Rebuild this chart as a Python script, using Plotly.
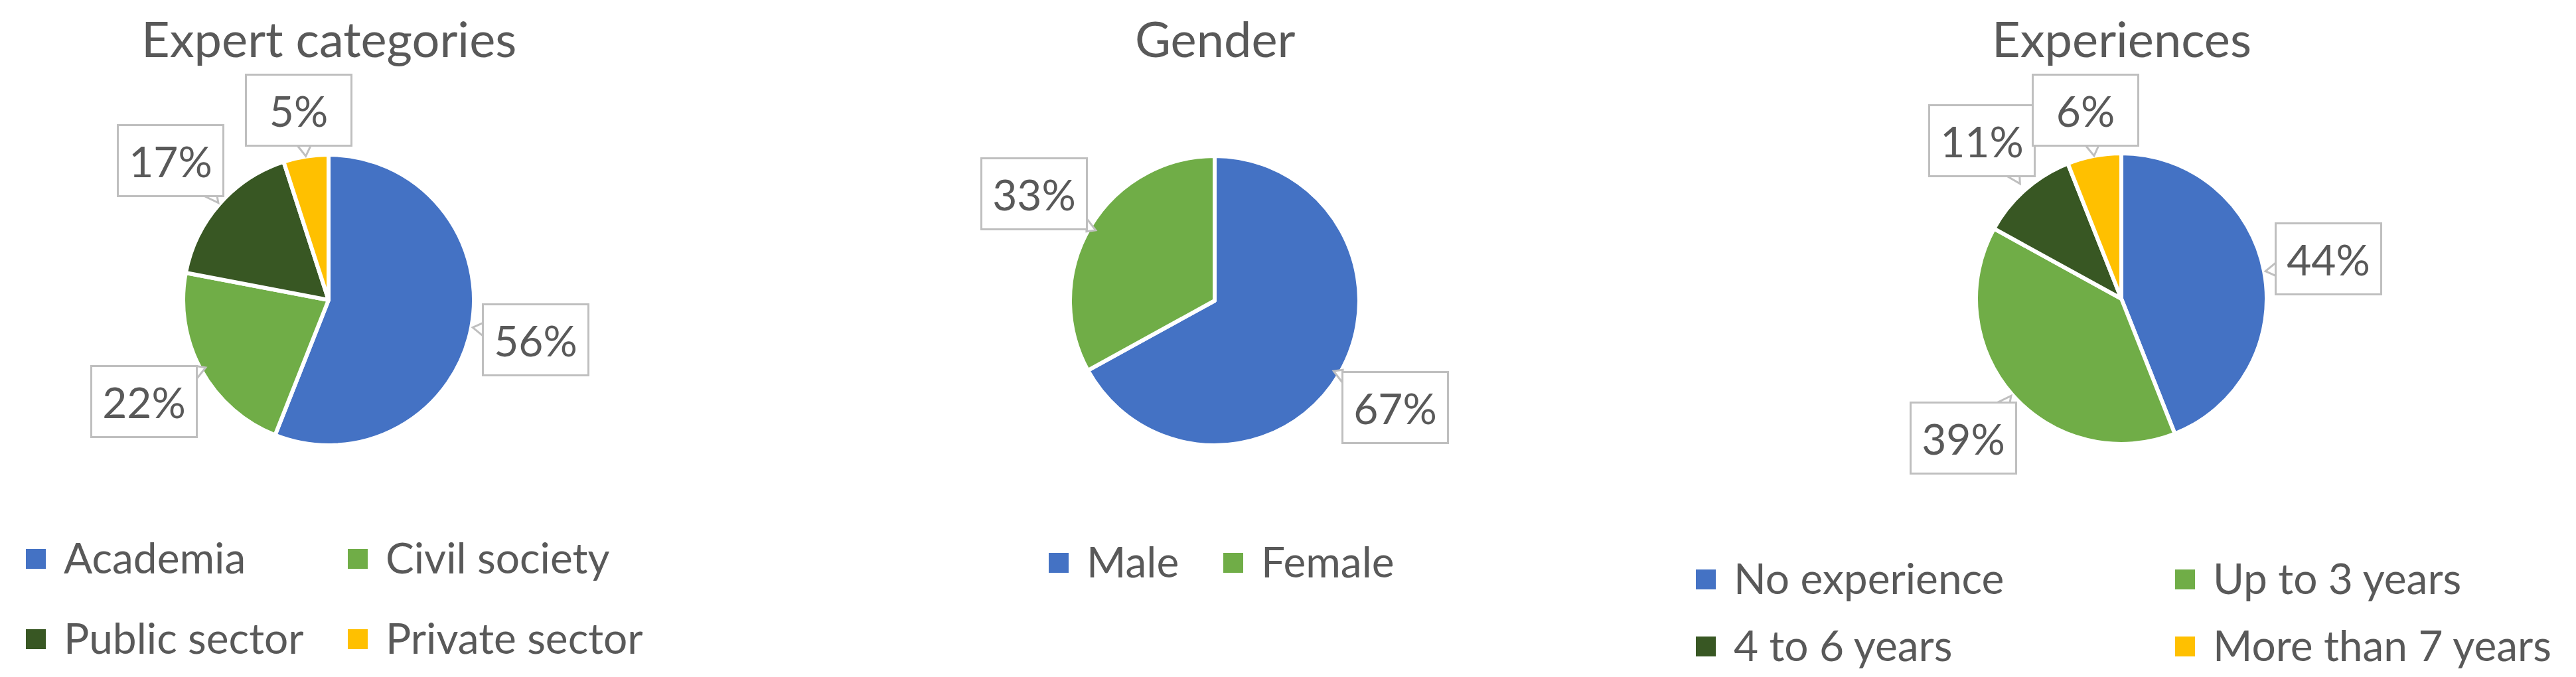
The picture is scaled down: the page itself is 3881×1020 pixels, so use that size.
import math
import plotly.graph_objects as go

# ---------------- data ----------------
expert_labels = ["Academia", "Civil society", "Public sector", "Private sector"]
expert_values = [56, 22, 17, 5]

gender_labels = ["Male", "Female"]
gender_values = [67, 33]

exp_labels = ["No experience", "Up to 3 years", "4 to 6 years", "More than 7 years"]
exp_values = [44, 39, 11, 6]

titles = ["Expert categories", "Gender", "Experiences"]

# ---------------- style / layout ----------------
W, H = 3881, 1020
BLUE, GREEN, DKGREEN, YELLOW = "#4472C4", "#70AD47", "#385723", "#FFC000"
TXT = "#595959"
BOX = "#BFBFBF"
FONT = "Lato"

palette4 = [BLUE, GREEN, DKGREEN, YELLOW]
palette2 = [BLUE, GREEN]

# pixel layout for each panel: pie centre, radius, legend grid
panels = [
    dict(labels=expert_labels, values=expert_values, colors=palette4,
         cx=487, cy=444, r=219,
         leg_cols=[86, 571], leg_rows=[834, 955]),
    dict(labels=gender_labels, values=gender_values, colors=palette2,
         cx=1822, cy=445, r=218,
         leg_cols=[1627, 1890], leg_rows=[840]),
    dict(labels=exp_labels, values=exp_values, colors=palette4,
         cx=3188, cy=442, r=219,
         leg_cols=[2602, 3324], leg_rows=[865, 966]),
]
TITLE_TOP = 4            # px from top of the page to the title text box
BOX_W, BOX_H = 162, 110  # outer size of the callout boxes in px


def px(x):
    return x / W


def py(y):
    return 1 - y / H


fig = go.Figure()
annotations = []
shapes = []

for p, title in zip(panels, titles):
    cx, cy, r = p["cx"], p["cy"], p["r"]
    fig.add_trace(go.Pie(
        labels=p["labels"], values=p["values"],
        marker=dict(colors=p["colors"], line=dict(color="white", width=6)),
        sort=False, direction="clockwise", rotation=0,
        textinfo="none", hoverinfo="label+percent",
        showlegend=False,
        domain=dict(x=[px(cx - r), px(cx + r)], y=[py(cy + r), py(cy - r)]),
    ))

    # title
    annotations.append(dict(
        text=title, x=px(cx), y=py(TITLE_TOP), xref="paper", yref="paper",
        xanchor="center", yanchor="top", showarrow=False, borderpad=0,
        font=dict(family=FONT, size=74, color=TXT),
    ))

    # data labels (callout boxes) placed from slice mid-angles
    total = sum(p["values"])
    cum = 0
    for v in p["values"]:
        mid = (cum + v / 2) / total * 2 * math.pi
        cum += v
        dx, dy = math.sin(mid), -math.cos(mid)
        d = 1.32 if math.cos(mid) > 0.9 else 1.45
        lx, ly = cx + d * r * dx, cy + d * r * dy

        # small pointer from the box edge towards the slice
        tx_, ty_ = cx + r * dx, cy + r * dy
        vx, vy = tx_ - lx, ty_ - ly
        n = math.hypot(vx, vy)
        ux, uy = vx / n, vy / n
        hw, hh = BOX_W / 2 - 2, BOX_H / 2 - 2
        t = min(hw / abs(ux) if ux else 1e9, hh / abs(uy) if uy else 1e9)
        ex, ey = lx + t * ux, ly + t * uy
        if abs(ux) * hh > abs(uy) * hw:  # vertical edge
            b1, b2 = (ex, ey - 10), (ex, ey + 10)
        else:  # horizontal edge
            b1, b2 = (ex - 10, ey), (ex + 10, ey)
        tipx, tipy = ex + 16 * ux, ey + 16 * uy
        path = (f"M{px(b1[0])},{py(b1[1])} L{px(tipx)},{py(tipy)} "
                f"L{px(b2[0])},{py(b2[1])} Z")
        shapes.append(dict(type="path", xref="paper", yref="paper", path=path,
                           fillcolor="white", line=dict(color=BOX, width=3),
                           layer="above"))

        annotations.append(dict(
            text=f"{round(v / total * 100)}%", x=px(lx), y=py(ly),
            xref="paper", yref="paper", xanchor="center", yanchor="middle",
            showarrow=False, width=128, height=76, borderpad=14,
            bgcolor="white", bordercolor=BOX, borderwidth=3,
            font=dict(family=FONT, size=64, color=TXT),
        ))

    # legend (grid of colour squares + labels)
    ncols = len(p["leg_cols"])
    for i, (lab, col) in enumerate(zip(p["labels"], p["colors"])):
        tx = p["leg_cols"][i % ncols]
        ty = p["leg_rows"][i // ncols]
        sq = 30
        sx = tx - 40
        shapes.append(dict(
            type="rect", xref="paper", yref="paper",
            x0=px(sx - sq / 2), x1=px(sx + sq / 2),
            y0=py(ty + sq / 2), y1=py(ty - sq / 2),
            fillcolor=col, line=dict(width=0),
        ))
        annotations.append(dict(
            text=lab, x=px(tx), y=py(ty - 3), xref="paper", yref="paper",
            xanchor="left", yanchor="middle", showarrow=False,
            font=dict(family=FONT, size=64, color=TXT),
        ))

fig.update_layout(
    width=W, height=H,
    margin=dict(l=0, r=0, t=0, b=0),
    paper_bgcolor="white", plot_bgcolor="white",
    annotations=annotations, shapes=shapes,
    showlegend=False,
)

fig.write_html("out.html")
